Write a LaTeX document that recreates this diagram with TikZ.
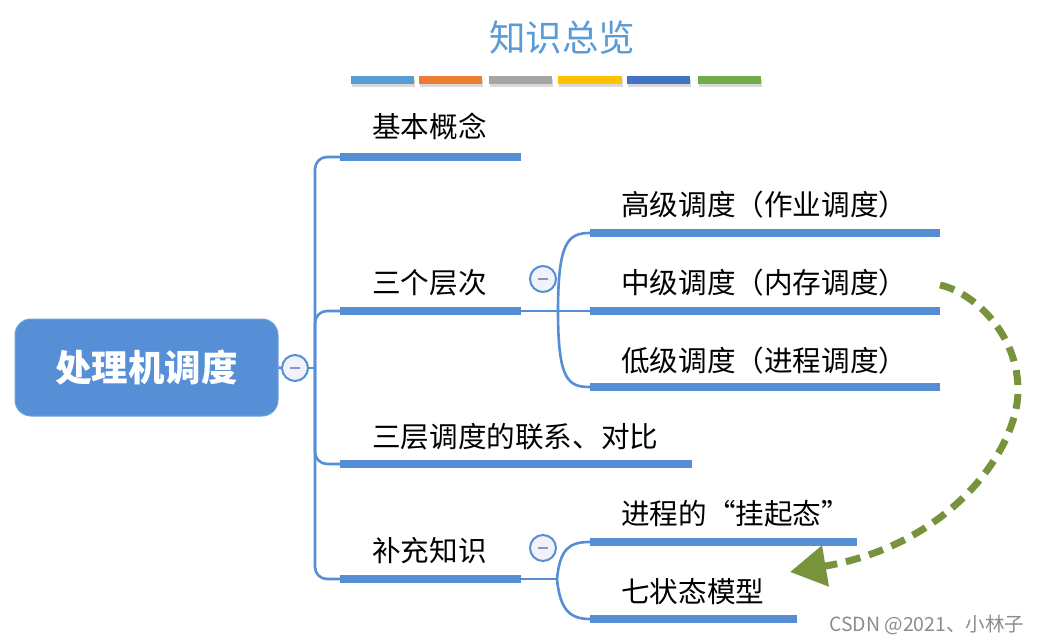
\documentclass[tikz,border=0pt]{standalone}
\usepackage{fontspec}
\setmainfont{Noto Sans CJK SC}
\usetikzlibrary{arrows.meta,shadows}
\definecolor{lineblue}{RGB}{85,142,213}
\definecolor{rootblue}{RGB}{86,143,214}
\definecolor{titleblue}{RGB}{91,155,213}
\definecolor{cA}{RGB}{91,155,213}
\definecolor{cB}{RGB}{237,125,49}
\definecolor{cC}{RGB}{165,165,165}
\definecolor{cD}{RGB}{255,192,0}
\definecolor{cE}{RGB}{68,114,196}
\definecolor{cF}{RGB}{112,173,71}
\definecolor{olive}{RGB}{119,147,60}
\definecolor{minusc}{RGB}{139,147,200}
\definecolor{circfill}{RGB}{242,243,250}
\begin{document}
\begin{tikzpicture}[x=1pt,y=-1pt,
  bar/.style={fill=lineblue, draw=none, inner sep=0pt, minimum height=8pt},
  cbar/.style={draw=none, inner sep=0pt, minimum height=8pt, minimum width=63pt,
    drop shadow={shadow xshift=1pt, shadow yshift=-3pt, opacity=0.25, fill=black!60}},
  link/.style={draw=lineblue, line width=2.6pt},
  lbl/.style={inner sep=0pt, anchor=base west, font=\fontsize{28.6}{32}\selectfont, text=black},
  collapse/.style={circle, draw=lineblue, line width=2pt, fill=circfill, minimum size=26pt, inner sep=0pt},
  minusline/.style={draw=minusc, line width=2.6pt},
  rootbox/.style={fill=rootblue, draw=rootblue!85!white, line width=1pt, rounded corners=16pt,
    minimum width=263pt, minimum height=97pt, inner sep=0pt, text=white,
    font=\fontsize{36.5}{40}\selectfont\bfseries},
  garrow/.style={draw=olive, line width=7pt, dash pattern=on 15pt off 9pt,
    -{Triangle[length=36pt,width=40pt]}}
]
\useasboundingbox (0,0) rectangle (1044,642);

% title
\node[font=\fontsize{36.5}{40}\selectfont, text=titleblue, inner sep=0pt] (title) at (562,38) {知识总览};

% colour bars
\node[cbar, fill=cA] (k1) at (382.5,80) {};
\node[cbar, fill=cB] (k2) at (450.5,80) {};
\node[cbar, fill=cC] (k3) at (520.5,80) {};
\node[cbar, fill=cD, minimum width=64pt] (k4) at (590,80) {};
\node[cbar, fill=cE] (k5) at (658.5,80) {};
\node[cbar, fill=cF] (k6) at (729.5,80) {};

% root
\node[rootbox] (root) at (146.5,367.5) {处理机调度};
\node[collapse] (c0) at (295,368) {};
\coordinate (J) at (315,368);
\draw[link] (root.east) -- (c0.west);
\draw[link] (c0.east) -- (J);
\draw[minusline] ([xshift=-5pt]c0.center) -- ([xshift=5pt]c0.center);

% first level bars
\node[bar, minimum width=181pt] (b1) at (430.5,157) {};
\node[bar, minimum width=181pt] (b2) at (430.5,311) {};
\node[bar, minimum width=352pt] (b3) at (516,464) {};
\node[bar, minimum width=181pt] (b4) at (430.5,579) {};

\draw[link, rounded corners=12pt] (J) |- (b1.west);
\draw[link, rounded corners=12pt] (J) |- (b2.west);
\draw[link, rounded corners=12pt] (J) |- (b3.west);
\draw[link, rounded corners=12pt] (J) |- (b4.west);

\node[lbl] (t1) at (372,137) {基本概念};
\node[lbl] (t2) at (372,293) {三个层次};
\node[lbl] (t3) at (372,447) {三层调度的联系、对比};
\node[lbl] (t4) at (372,561) {补充知识};

% second level: 三个层次
\node[collapse] (c2) at (543,279) {};
\draw[minusline] ([xshift=-5pt]c2.center) -- ([xshift=5pt]c2.center);
\coordinate (K2) at (558,311);
\draw[link] (b2.east) -- (K2);
\node[bar, minimum width=350pt] (b21) at (765,233) {};
\node[bar, minimum width=350pt] (b22) at (765,311) {};
\node[bar, minimum width=350pt] (b23) at (765,387) {};
\draw[link] (K2) .. controls (558,242) and (568,233) .. (b21.west);
\draw[link] (K2) -- (b22.west);
\draw[link] (K2) .. controls (558,380) and (568,387) .. (b23.west);
\node[lbl] (t21) at (621,215) {高级调度（作业调度）};
\node[lbl] (t22) at (621,293) {中级调度（内存调度）};
\node[lbl] (t23) at (621,371) {低级调度（进程调度）};

% second level: 补充知识
\node[collapse] (c4) at (543,548) {};
\draw[minusline] ([xshift=-5pt]c4.center) -- ([xshift=5pt]c4.center);
\coordinate (K4) at (557,579);
\draw[link] (b4.east) -- (K4);
\node[bar, minimum width=267pt] (b41) at (723.5,542) {};
\node[bar, minimum width=207pt] (b42) at (693.5,619) {};
\draw[link] (K4) .. controls (560,548) and (570,542) .. (b41.west);
\draw[link] (K4) .. controls (560,610) and (570,619) .. (b42.west);
\node[lbl] (t41) at (621,524) {进程的“挂起态”};
\node[lbl] (t42) at (621,602) {七状态模型};

% dashed arrow
\coordinate (as) at (940,285);
\coordinate (ae) at (790,572);
\draw[garrow] (as) .. controls (975,293) and (1018,335) .. (1018,390)
  .. controls (1018,450) and (950,545) .. (ae);

% watermark
\node[inner sep=0pt, anchor=base west, font=\fontsize{19.5}{22}\selectfont, text=black!45] (wm) at (829,631) {CSDN @2021、小林子};
\end{tikzpicture}
\end{document}
